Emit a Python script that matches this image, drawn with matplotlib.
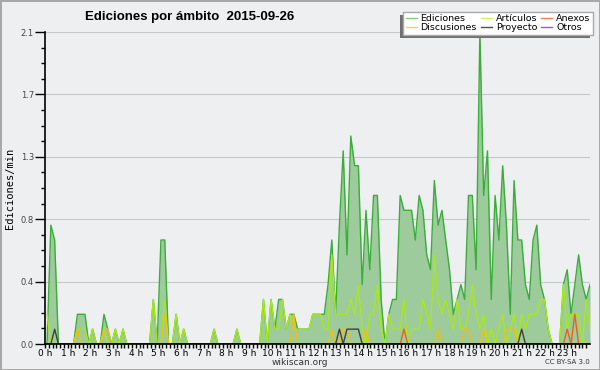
import numpy as np
import matplotlib
matplotlib.use("Agg")
import matplotlib.pyplot as plt
from matplotlib.lines import Line2D
from matplotlib.patches import Rectangle

# edits per minute, one value per 10 minute slot (6 per hour)
ediciones = [
    0.0, 0.8, 0.7, 0.0, 0.0, 0.0,
    0.0, 0.0, 0.2, 0.2, 0.2, 0.0,
    0.1, 0.0, 0.0, 0.2, 0.1, 0.0,
    0.1, 0.0, 0.1, 0.0, 0.0, 0.0,
    0.0, 0.0, 0.0, 0.0, 0.3, 0.0,
    0.7, 0.7, 0.0, 0.0, 0.2, 0.0,
    0.1, 0.0, 0.0, 0.0, 0.0, 0.0,
    0.0, 0.0, 0.1, 0.0, 0.0, 0.0,
    0.0, 0.0, 0.1, 0.0, 0.0, 0.0,
    0.0, 0.0, 0.0, 0.3, 0.0, 0.3,
    0.1, 0.3, 0.3, 0.1, 0.2, 0.2,
    0.1, 0.1, 0.1, 0.1, 0.2, 0.2,
    0.2, 0.2, 0.4, 0.7, 0.2, 0.8,
    1.3, 0.6, 1.4, 1.2, 1.2, 0.4,
    0.9, 0.5, 1.0, 1.0, 0.3, 0.0,
    0.2, 0.3, 0.3, 1.0, 0.9, 0.9,
    0.9, 0.7, 1.0, 0.9, 0.6, 0.5,
    1.1, 0.8, 0.9, 0.7, 0.5, 0.2,
    0.3, 0.4, 0.3, 1.0, 1.0, 0.5,
    2.1, 1.0, 1.3, 0.3, 1.0, 0.7,
    1.2, 0.8, 0.2, 1.1, 0.7, 0.7,
    0.4, 0.3, 0.7, 0.8, 0.4, 0.3,
    0.1, 0.0, 0.0, 0.0, 0.4, 0.5,
    0.2, 0.4, 0.6, 0.4, 0.3, 0.4,
]
articulos = [
    0.2, 0.0, 0.0, 0.0, 0.0, 0.0,
    0.0, 0.0, 0.1, 0.1, 0.1, 0.0,
    0.1, 0.0, 0.0, 0.1, 0.0, 0.0,
    0.1, 0.0, 0.1, 0.0, 0.0, 0.0,
    0.0, 0.0, 0.0, 0.0, 0.3, 0.0,
    0.0, 0.3, 0.0, 0.0, 0.2, 0.0,
    0.1, 0.0, 0.0, 0.0, 0.0, 0.0,
    0.0, 0.0, 0.1, 0.0, 0.0, 0.0,
    0.0, 0.0, 0.1, 0.0, 0.0, 0.0,
    0.0, 0.0, 0.0, 0.3, 0.0, 0.3,
    0.1, 0.1, 0.3, 0.1, 0.2, 0.1,
    0.1, 0.1, 0.1, 0.1, 0.2, 0.2,
    0.2, 0.1, 0.1, 0.6, 0.2, 0.2,
    0.2, 0.2, 0.3, 0.2, 0.4, 0.1,
    0.0, 0.2, 0.2, 0.4, 0.1, 0.0,
    0.2, 0.1, 0.1, 0.1, 0.3, 0.0,
    0.1, 0.1, 0.1, 0.3, 0.2, 0.1,
    0.6, 0.3, 0.2, 0.3, 0.2, 0.1,
    0.3, 0.1, 0.1, 0.2, 0.4, 0.2,
    0.1, 0.2, 0.0, 0.1, 0.0, 0.1,
    0.2, 0.0, 0.1, 0.2, 0.0, 0.2,
    0.1, 0.2, 0.2, 0.2, 0.3, 0.3,
    0.1, 0.0, 0.0, 0.0, 0.4, 0.1,
    0.2, 0.2, 0.2, 0.0, 0.3, 0.1,
]
discusiones = [
    0.0, 0.0, 0.0, 0.0, 0.0, 0.0,
    0.0, 0.0, 0.1, 0.0, 0.0, 0.0,
    0.0, 0.0, 0.0, 0.1, 0.1, 0.0,
    0.0, 0.0, 0.0, 0.0, 0.0, 0.0,
    0.0, 0.0, 0.0, 0.0, 0.0, 0.0,
    0.0, 0.2, 0.0, 0.0, 0.0, 0.0,
    0.0, 0.0, 0.0, 0.0, 0.0, 0.0,
    0.0, 0.0, 0.0, 0.0, 0.0, 0.0,
    0.0, 0.0, 0.0, 0.0, 0.0, 0.0,
    0.0, 0.0, 0.0, 0.0, 0.0, 0.0,
    0.0, 0.0, 0.0, 0.0, 0.0, 0.2,
    0.0, 0.0, 0.0, 0.0, 0.0, 0.0,
    0.0, 0.0, 0.0, 0.1, 0.0, 0.0,
    0.1, 0.1, 0.0, 0.0, 0.0, 0.0,
    0.1, 0.0, 0.0, 0.0, 0.0, 0.0,
    0.0, 0.0, 0.0, 0.0, 0.0, 0.0,
    0.0, 0.0, 0.0, 0.0, 0.0, 0.0,
    0.0, 0.1, 0.0, 0.0, 0.0, 0.0,
    0.0, 0.0, 0.1, 0.1, 0.0, 0.0,
    0.0, 0.1, 0.0, 0.0, 0.0, 0.0,
    0.0, 0.1, 0.1, 0.1, 0.0, 0.0,
    0.0, 0.0, 0.0, 0.0, 0.0, 0.0,
    0.0, 0.0, 0.0, 0.0, 0.0, 0.0,
    0.0, 0.0, 0.0, 0.0, 0.0, 0.0,
]
proyecto = [0.0] * 144
for i in (2, 77, 79, 80, 81, 82, 125):
    proyecto[i] = 0.1
anexos = [0.0] * 144
anexos[94] = 0.1
anexos[137] = 0.1
anexos[139] = 0.2
otros = [0.0] * 144

hour_labels = [f"{h} h" for h in range(24)]
y_ticks = [0.0, 0.42, 0.84, 1.26, 1.68, 2.1]
y_labels = ["0.0", "0.4", "0.8", "1.3", "1.7", "2.1"]

bg = "#eeeff1"
c_edit = "#3aad3a"
c_fill = "#9dcb9b"
c_art = "#a8e81c"
c_disc = "#f0c010"
c_anex = "#f06018"
c_proj = "#404040"
c_otros = "#9040e0"

t = np.linspace(0.09, 24.0, 144)

fig = plt.figure(figsize=(6, 3.7), dpi=100, facecolor=bg)
fig.patch.set_edgecolor("#a8a8a8")
fig.patch.set_linewidth(2)
ax = fig.add_axes([45 / 600, 26 / 370, 545 / 600, 312 / 370])
ax.set_facecolor(bg)

ax.fill_between(t, ediciones, color=c_fill, lw=0, zorder=2)
ax.plot(t, ediciones, color=c_edit, lw=1.0, zorder=3)
ax.plot(t, articulos, color=c_art, lw=1.0, zorder=4)
ax.plot(t, discusiones, color=c_disc, lw=1.0, zorder=5)
ax.plot(t, anexos, color=c_anex, lw=1.0, zorder=6)
ax.plot(t, proyecto, color=c_proj, lw=1.0, zorder=7)
ax.plot(t, otros, color=c_otros, lw=1.0, zorder=1)

ax.set_xlim(0, 24)
ax.set_ylim(0, 2.1)
ax.set_xticks(range(24))
ax.set_xticklabels(hour_labels, fontsize=6.5)
ax.set_xticks(np.arange(0, 24, 1 / 6), minor=True)
ax.set_yticks(y_ticks)
ax.set_yticklabels(y_labels, fontsize=6, color="#444444")
ax.set_yticks(np.arange(0, 2.1, 0.105), minor=True)
ax.tick_params(axis="x", which="major", length=3, width=1, pad=0.5)
ax.tick_params(axis="x", which="minor", length=3, width=1)
ax.tick_params(axis="y", which="major", length=7, width=1, pad=1)
ax.tick_params(axis="y", which="minor", length=3, width=1)
ax.grid(axis="y", which="major", color="#c8c8c8", lw=0.8, zorder=0)
ax.set_axisbelow(True)
for s in ("top", "right"):
    ax.spines[s].set_visible(False)
for s in ("left", "bottom"):
    ax.spines[s].set_linewidth(1.2)
    ax.spines[s].set_zorder(10)

ax.set_ylabel("Ediciones/min", fontsize=7.5, family="DejaVu Sans Mono", labelpad=4)

fig.text(85 / 600, 1 - 17 / 370, "Ediciones por ámbito  2015-09-26",
         fontsize=9.5, fontweight="bold", family="Liberation Sans", va="center", ha="left")
fig.text(300 / 600, 1 - 362.5 / 370, "wikiscan.org", fontsize=6.5, ha="center", va="center", color="#333333")
fig.text(590 / 600, 1 - 362.5 / 370, "CC BY-SA 3.0", fontsize=5, ha="right", va="center", color="#333333")

handles = [
    Line2D([], [], color="#80d080", lw=1),
    Line2D([], [], color="#f8d060", lw=1),
    Line2D([], [], color="#d0f060", lw=1),
    Line2D([], [], color="#505050", lw=1),
    Line2D([], [], color="#f08050", lw=1),
    Line2D([], [], color="#a050f0", lw=1),
]
names = ["Ediciones", "Discusiones", "Artículos", "Proyecto", "Anexos", "Otros"]
leg = fig.legend(handles, names, ncol=3, loc="upper right",
                 bbox_to_anchor=(593 / 600, 1 - 12 / 370), fontsize=6.8,
                 frameon=True, fancybox=False, framealpha=1, edgecolor="#aaaaaa",
                 borderpad=0.25, labelspacing=0.0, columnspacing=0.4,
                 handlelength=1.2, handletextpad=0.4, borderaxespad=0)
leg.set_zorder(6)

fig.canvas.draw()
bb = leg.get_frame().get_window_extent().transformed(fig.transFigure.inverted())
shadow = Rectangle((bb.x0 - 3 / 600, bb.y0 - 3 / 370), bb.width, bb.height,
                   transform=fig.transFigure, facecolor="#707070", edgecolor="none", zorder=5)
fig.add_artist(shadow)

fig.savefig("out.png", dpi=100, facecolor=bg, edgecolor="#a8a8a8")
